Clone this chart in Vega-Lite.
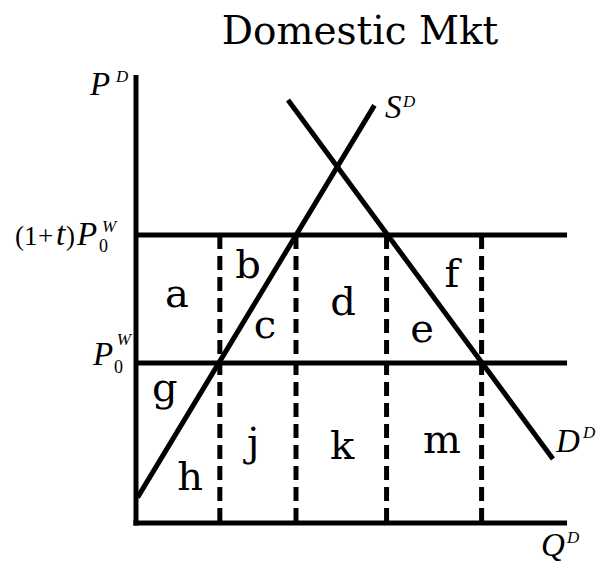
{
  "$schema": "https://vega.github.io/schema/vega-lite/v6.json",
  "width": 607,
  "height": 564,
  "autosize": {"type": "none"},
  "padding": 0,
  "config": {"view": {"stroke": null}},
  "datasets": {
    "segs": [
      {"kind": "axis", "q": 0, "p": -0.08, "q2": 0, "p2": 14},
      {"kind": "axis", "q": -0.08, "p": 0, "q2": 13.47, "p2": 0},
      {"kind": "price", "q": 0, "p": 9, "q2": 13.47, "p2": 9},
      {"kind": "price", "q": 0, "p": 5, "q2": 13.47, "p2": 5},
      {"kind": "dash", "q": 2.62, "p": 9, "q2": 2.62, "p2": 0.06},
      {"kind": "dash", "q": 5.0, "p": 9, "q2": 5.0, "p2": 0.06},
      {"kind": "dash", "q": 7.83, "p": 9, "q2": 7.83, "p2": 0.06},
      {"kind": "dash", "q": 10.8, "p": 9, "q2": 10.8, "p2": 0.06}
    ],
    "curves": [
      {"curve": "Supply", "q": 0.05, "p": 0.8},
      {"curve": "Supply", "q": 7.45, "p": 13.05},
      {"curve": "Demand", "q": 4.75, "p": 13.22},
      {"curve": "Demand", "q": 13.03, "p": 2.0}
    ],
    "texts": [
      {"kind": "title", "label": "Domestic Mkt", "q": 7.0, "p": 14.97},
      {"kind": "area", "label": "a", "q": 1.28, "p": 6.75},
      {"kind": "area", "label": "b", "q": 3.5, "p": 7.66},
      {"kind": "area", "label": "c", "q": 4.03, "p": 5.78},
      {"kind": "area", "label": "d", "q": 6.47, "p": 6.5},
      {"kind": "area", "label": "e", "q": 8.94, "p": 5.66},
      {"kind": "area", "label": "f", "q": 9.875, "p": 7.375},
      {"kind": "area", "label": "g", "q": 0.9, "p": 3.81},
      {"kind": "area", "label": "h", "q": 1.69, "p": 1.03},
      {"kind": "area", "label": "j", "q": 3.66, "p": 2.09},
      {"kind": "area", "label": "k", "q": 6.44, "p": 2.0},
      {"kind": "area", "label": "m", "q": 9.56, "p": 2.19},
      {"kind": "ital", "label": "P", "q": -1.4375, "p": 13.375},
      {"kind": "supI", "label": "D", "q": -0.625, "p": 13.78},
      {"kind": "up", "label": "(1", "q": -3.78, "p": 8.69},
      {"kind": "up", "label": "+", "q": -3.06, "p": 8.69},
      {"kind": "ital", "label": "t", "q": -2.5, "p": 8.69},
      {"kind": "up", "label": ")", "q": -2.19, "p": 8.69},
      {"kind": "ital", "label": "P", "q": -1.84, "p": 8.69},
      {"kind": "subU", "label": "0", "q": -1.16, "p": 8.47},
      {"kind": "supI", "label": "W", "q": -1.06, "p": 9.09},
      {"kind": "ital", "label": "P", "q": -1.34, "p": 4.94},
      {"kind": "subU", "label": "0", "q": -0.69, "p": 4.69},
      {"kind": "supI", "label": "W", "q": -0.6, "p": 5.56},
      {"kind": "ital", "label": "S", "q": 7.78, "p": 12.66},
      {"kind": "supI", "label": "D", "q": 8.34, "p": 13.0},
      {"kind": "ital", "label": "D", "q": 13.125, "p": 2.22},
      {"kind": "supI", "label": "D", "q": 13.97, "p": 2.66},
      {"kind": "ital", "label": "Q", "q": 12.66, "p": -1.03},
      {"kind": "supI", "label": "D", "q": 13.47, "p": -0.625}
    ]
  },
  "layer": [
    {
      "data": {"name": "segs"},
      "transform": [{"filter": "datum.kind !== 'dash'"}],
      "mark": {"type": "rule", "color": "black", "strokeWidth": 5, "strokeCap": "butt"},
      "encoding": {
        "x": {"field": "q", "type": "quantitative", "scale": {"domain": [-4.25, 14.71875], "nice": false, "zero": false}, "axis": null},
        "y": {"field": "p", "type": "quantitative", "scale": {"domain": [-1.28125, 16.34375], "nice": false, "zero": false}, "axis": null},
        "x2": {"field": "q2"},
        "y2": {"field": "p2"}
      }
    },
    {
      "data": {"name": "segs"},
      "transform": [{"filter": "datum.kind === 'dash'"}],
      "mark": {"type": "rule", "color": "black", "strokeWidth": 5, "strokeCap": "butt", "strokeDash": [14, 7]},
      "encoding": {
        "x": {"field": "q", "type": "quantitative", "scale": {"domain": [-4.25, 14.71875], "nice": false, "zero": false}, "axis": null},
        "y": {"field": "p", "type": "quantitative", "scale": {"domain": [-1.28125, 16.34375], "nice": false, "zero": false}, "axis": null},
        "x2": {"field": "q2"},
        "y2": {"field": "p2"}
      }
    },
    {
      "data": {"name": "curves"},
      "mark": {"type": "line", "color": "black", "strokeWidth": 5, "strokeCap": "butt"},
      "encoding": {
        "x": {"field": "q", "type": "quantitative", "scale": {"domain": [-4.25, 14.71875], "nice": false, "zero": false}, "axis": null},
        "y": {"field": "p", "type": "quantitative", "scale": {"domain": [-1.28125, 16.34375], "nice": false, "zero": false}, "axis": null},
        "detail": {"field": "curve", "type": "nominal"}
      }
    },
    {
      "data": {"name": "texts"},
      "transform": [{"filter": "datum.kind === 'title'"}],
      "mark": {"type": "text", "font": "DejaVu Serif", "fontSize": 39, "align": "center", "baseline": "alphabetic", "color": "black"},
      "encoding": {
        "x": {"field": "q", "type": "quantitative", "scale": {"domain": [-4.25, 14.71875], "nice": false, "zero": false}, "axis": null},
        "y": {"field": "p", "type": "quantitative", "scale": {"domain": [-1.28125, 16.34375], "nice": false, "zero": false}, "axis": null},
        "text": {"field": "label"}
      }
    },
    {
      "data": {"name": "texts"},
      "transform": [{"filter": "datum.kind === 'area'"}],
      "mark": {"type": "text", "font": "DejaVu Serif", "fontSize": 40, "align": "center", "baseline": "alphabetic", "color": "black"},
      "encoding": {
        "x": {"field": "q", "type": "quantitative", "scale": {"domain": [-4.25, 14.71875], "nice": false, "zero": false}, "axis": null},
        "y": {"field": "p", "type": "quantitative", "scale": {"domain": [-1.28125, 16.34375], "nice": false, "zero": false}, "axis": null},
        "text": {"field": "label"}
      }
    },
    {
      "data": {"name": "texts"},
      "transform": [{"filter": "datum.kind === 'ital'"}],
      "mark": {"type": "text", "font": "Liberation Serif", "fontStyle": "italic", "fontSize": 33, "align": "left", "baseline": "alphabetic", "color": "black"},
      "encoding": {
        "x": {"field": "q", "type": "quantitative", "scale": {"domain": [-4.25, 14.71875], "nice": false, "zero": false}, "axis": null},
        "y": {"field": "p", "type": "quantitative", "scale": {"domain": [-1.28125, 16.34375], "nice": false, "zero": false}, "axis": null},
        "text": {"field": "label"}
      }
    },
    {
      "data": {"name": "texts"},
      "transform": [{"filter": "datum.kind === 'up'"}],
      "mark": {"type": "text", "font": "Liberation Serif", "fontSize": 27, "align": "left", "baseline": "alphabetic", "color": "black"},
      "encoding": {
        "x": {"field": "q", "type": "quantitative", "scale": {"domain": [-4.25, 14.71875], "nice": false, "zero": false}, "axis": null},
        "y": {"field": "p", "type": "quantitative", "scale": {"domain": [-1.28125, 16.34375], "nice": false, "zero": false}, "axis": null},
        "text": {"field": "label"}
      }
    },
    {
      "data": {"name": "texts"},
      "transform": [{"filter": "datum.kind === 'supI'"}],
      "mark": {"type": "text", "font": "Liberation Serif", "fontStyle": "italic", "fontSize": 17, "align": "left", "baseline": "alphabetic", "color": "black"},
      "encoding": {
        "x": {"field": "q", "type": "quantitative", "scale": {"domain": [-4.25, 14.71875], "nice": false, "zero": false}, "axis": null},
        "y": {"field": "p", "type": "quantitative", "scale": {"domain": [-1.28125, 16.34375], "nice": false, "zero": false}, "axis": null},
        "text": {"field": "label"}
      }
    },
    {
      "data": {"name": "texts"},
      "transform": [{"filter": "datum.kind === 'subU'"}],
      "mark": {"type": "text", "font": "Liberation Serif", "fontSize": 18, "align": "left", "baseline": "alphabetic", "color": "black"},
      "encoding": {
        "x": {"field": "q", "type": "quantitative", "scale": {"domain": [-4.25, 14.71875], "nice": false, "zero": false}, "axis": null},
        "y": {"field": "p", "type": "quantitative", "scale": {"domain": [-1.28125, 16.34375], "nice": false, "zero": false}, "axis": null},
        "text": {"field": "label"}
      }
    }
  ]
}
